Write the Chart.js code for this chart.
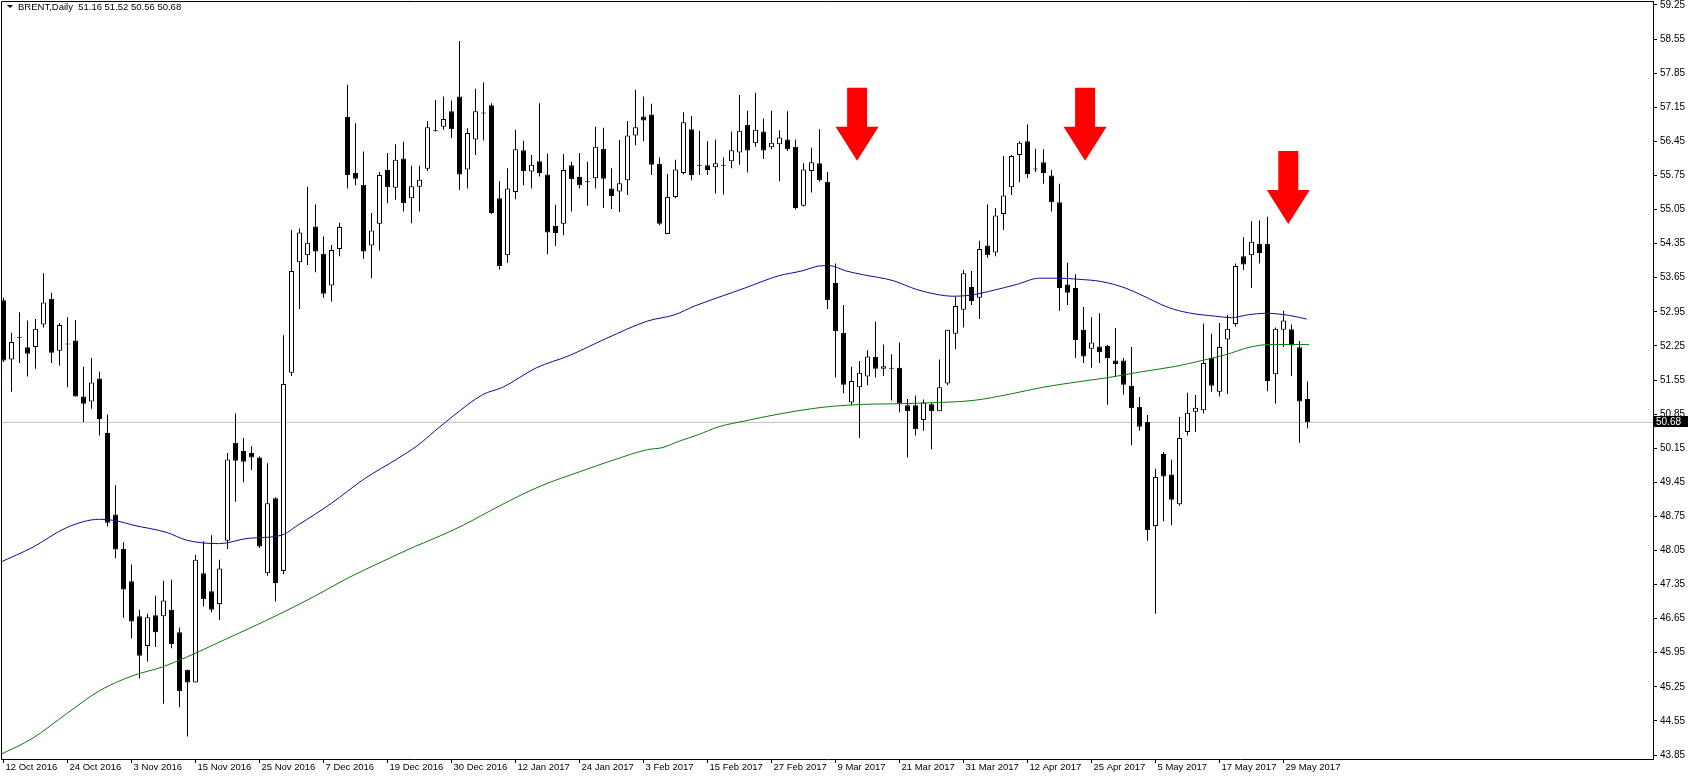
<!DOCTYPE html>
<html>
<head>
<meta charset="utf-8">
<script src="https://cdn.jsdelivr.net/npm/chart.js@4.4.1/dist/chart.umd.min.js"></script>
<style>
  html, body { margin: 0; padding: 0; background: #fff; }
  canvas { display: block; }
</style>
</head>
<body>
<canvas id="canvas" width="1693" height="779"></canvas>
<script>
// Date labels under the X axis, one every 8 daily bars
const dateLabels = ['12 Oct 2016', '24 Oct 2016', '3 Nov 2016', '15 Nov 2016', '25 Nov 2016', '7 Dec 2016',
    '19 Dec 2016', '30 Dec 2016', '12 Jan 2017', '24 Jan 2017', '3 Feb 2017', '15 Feb 2017', '27 Feb 2017',
    '9 Mar 2017', '21 Mar 2017', '31 Mar 2017', '12 Apr 2017', '25 Apr 2017', '5 May 2017', '17 May 2017', '29 May 2017'];
const labelStep = 8;

// Price labels on the right axis
const priceTicks = [59.25, 58.55, 57.85, 57.15, 56.45, 55.75, 55.05, 54.35, 53.65, 52.95, 52.25, 51.55,
    50.85, 50.15, 49.45, 48.75, 48.05, 47.35, 46.65, 45.95, 45.25, 44.55, 43.85];

// Daily BRENT candles (bar 0 = 12 Oct 2016)
const opens = [
    53.19, 51.97, 52.42, 52.22, 52.23, 52.69, 53.22, 52.15, 52.28, 52.36,
    51.21, 51.11, 51.58, 50.46, 48.79, 48.08, 47.42, 46.70, 46.09, 46.72,
    46.70, 46.83, 46.37, 45.60, 45.34, 47.58, 47.21, 46.95, 48.25, 50.26,
    50.09, 50.05, 49.96, 47.58, 49.12, 47.63, 51.70, 53.97, 54.11, 54.70,
    54.14, 53.49, 54.24, 56.95, 55.80, 55.56, 54.31, 54.76, 55.86, 55.50,
    56.10, 55.28, 55.52, 55.89, 56.68, 56.75, 57.07, 57.37, 55.87, 56.49,
    57.02, 57.19, 55.28, 54.11, 55.41, 56.27, 55.83, 56.04, 55.77, 54.71,
    54.76, 55.96, 55.72, 55.61, 55.69, 56.30, 55.48, 55.42, 55.65, 56.57,
    56.96, 57.00, 55.99, 54.55, 55.31, 55.80, 56.70, 55.95, 55.96, 55.92,
    55.95, 56.04, 56.22, 56.79, 56.41, 56.65, 56.33, 56.39, 56.49, 56.34,
    55.13, 55.84, 56.00, 55.62, 53.54, 52.52, 51.09, 51.40, 51.62, 52.02,
    51.78, 51.79, 51.80, 51.03, 51.03, 50.73, 51.05, 50.91, 51.48, 52.50,
    52.99, 53.46, 53.24, 54.31, 54.17, 54.96, 55.51, 56.17, 56.45, 55.88,
    56.02, 55.75, 55.20, 53.51, 53.44, 52.58, 52.19, 52.24, 52.25, 51.95,
    51.95, 51.43, 51.00, 50.69, 48.55, 50.03, 49.61, 49.00, 50.48, 50.90,
    50.93, 52.00, 51.31, 52.38, 52.70, 54.09, 54.11, 54.35, 54.35, 51.67,
    52.58, 52.59, 52.22, 51.16
];
const highs = [
    53.24, 52.52, 52.94, 52.77, 52.80, 53.74, 53.34, 52.72, 52.84, 52.78,
    51.82, 52.00, 51.72, 50.84, 49.39, 48.22, 47.76, 46.83, 46.75, 47.12,
    47.43, 47.45, 46.47, 45.60, 47.96, 48.24, 48.36, 47.86, 50.05, 50.86,
    50.36, 50.19, 49.98, 49.84, 49.14, 52.47, 54.63, 54.66, 55.52, 55.16,
    54.50, 54.32, 54.78, 57.61, 56.82, 56.24, 54.98, 55.82, 56.21, 56.39,
    56.44, 55.95, 55.95, 56.87, 57.30, 57.37, 57.29, 58.51, 56.72, 57.53,
    57.66, 57.23, 55.63, 55.90, 56.69, 56.46, 56.17, 57.23, 56.20, 55.15,
    56.19, 56.03, 56.21, 56.03, 56.75, 56.73, 55.90, 56.48, 56.87, 57.51,
    57.37, 57.22, 56.12, 55.78, 56.07, 57.05, 56.97, 56.67, 56.45, 56.49,
    56.12, 56.65, 57.40, 57.08, 57.45, 56.92, 57.08, 56.68, 57.07, 56.49,
    56.00, 56.32, 56.70, 55.82, 53.94, 53.09, 51.82, 51.94, 52.16, 52.75,
    52.28, 52.08, 52.32, 51.16, 51.23, 51.15, 51.08, 51.97, 52.58, 53.26,
    53.81, 53.79, 54.41, 55.16, 55.08, 56.15, 56.17, 56.45, 56.80, 56.30,
    56.29, 55.86, 55.58, 53.96, 53.72, 53.05, 52.84, 52.92, 52.27, 52.62,
    52.00, 52.23, 51.20, 50.83, 49.73, 50.07, 49.91, 50.79, 51.29, 51.24,
    52.71, 52.50, 52.72, 52.89, 53.94, 54.48, 54.81, 54.83, 54.90, 52.63,
    52.97, 52.69, 52.35, 51.52
];
const lows = [
    51.92, 51.31, 51.90, 51.62, 51.78, 52.63, 51.90, 51.85, 51.40, 51.21,
    50.69, 50.96, 50.41, 48.54, 47.89, 46.67, 46.24, 45.42, 45.77, 46.07,
    44.90, 46.04, 44.83, 44.23, 45.34, 46.90, 46.78, 46.62, 48.08, 49.05,
    49.45, 49.70, 48.10, 47.53, 47.00, 47.56, 51.63, 53.01, 53.91, 53.76,
    53.24, 53.16, 54.09, 55.48, 55.55, 54.04, 53.64, 54.21, 55.18, 55.25,
    55.01, 54.77, 55.01, 55.84, 56.65, 56.69, 56.52, 55.45, 55.48, 56.17,
    56.47, 54.96, 53.82, 53.96, 55.26, 55.55, 55.48, 55.73, 54.13, 54.30,
    54.52, 55.01, 55.48, 55.13, 55.48, 55.08, 55.06, 55.00, 55.35, 56.37,
    56.45, 55.76, 54.73, 54.55, 55.28, 55.77, 55.65, 55.76, 55.76, 55.38,
    55.36, 55.90, 55.97, 55.81, 56.34, 56.09, 56.29, 55.63, 56.25, 55.05,
    55.11, 55.40, 55.62, 53.01, 51.60, 51.28, 51.03, 50.36, 51.44, 51.60,
    51.63, 51.13, 50.89, 49.96, 50.41, 50.51, 50.13, 50.91, 51.44, 52.18,
    52.63, 53.09, 52.80, 54.06, 54.09, 54.63, 55.35, 55.61, 55.70, 55.82,
    55.58, 55.01, 52.97, 53.09, 52.00, 51.90, 51.80, 51.90, 51.04, 51.62,
    51.25, 50.21, 50.51, 48.25, 46.75, 48.65, 48.57, 48.97, 50.41, 50.48,
    50.86, 51.31, 51.21, 51.26, 52.65, 53.81, 53.44, 53.94, 51.32, 51.06,
    52.23, 51.63, 50.26, 50.56
];
const closes = [
    51.95, 52.33, 52.44, 52.09, 52.60, 53.14, 52.11, 52.68, 52.30, 51.21,
    51.06, 51.50, 50.75, 48.62, 48.07, 47.25, 46.59, 45.89, 46.68, 46.37,
    47.02, 46.13, 45.16, 45.34, 47.86, 47.05, 46.83, 47.68, 49.92, 49.89,
    49.87, 49.96, 48.13, 49.02, 47.38, 51.47, 53.79, 54.58, 54.37, 54.19,
    53.32, 54.22, 54.69, 55.76, 55.68, 54.19, 54.62, 55.76, 55.51, 56.07,
    55.18, 55.53, 55.66, 56.74, 56.66, 56.91, 56.70, 55.77, 56.62, 57.07,
    57.03, 54.98, 53.89, 55.48, 56.29, 55.84, 55.97, 55.80, 54.58, 54.57,
    55.86, 55.67, 55.55, 55.62, 56.34, 55.68, 55.33, 55.59, 56.57, 56.74,
    56.88, 55.97, 54.76, 55.31, 55.87, 56.84, 55.76, 55.96, 55.86, 56.00,
    55.96, 56.27, 56.67, 56.26, 56.69, 56.26, 56.42, 56.53, 56.29, 55.08,
    55.87, 56.02, 55.65, 53.19, 52.55, 51.45, 51.53, 51.70, 52.03, 51.78,
    51.83, 51.78, 51.06, 50.91, 50.54, 51.09, 50.91, 51.40, 52.58, 53.07,
    53.74, 53.17, 54.24, 54.11, 54.93, 55.34, 56.15, 56.42, 55.78, 55.87,
    55.80, 55.20, 53.44, 53.34, 52.37, 52.03, 52.32, 52.12, 52.00, 51.88,
    51.45, 50.97, 50.59, 48.47, 49.56, 49.57, 49.09, 50.36, 50.88, 50.98,
    51.90, 51.43, 52.23, 52.60, 53.89, 53.92, 54.39, 54.16, 51.53, 52.60,
    52.77, 52.26, 51.11, 50.68
];

// Blue moving average (bar position, value)
const blueAt = [-0.5, 3.7, 7.9, 12.0, 14.1, 16.2, 20.4, 22.9, 27.0, 30.6, 34.7, 36.8, 41.0, 45.1, 49.3, 51.8,
    53.9, 56.2, 59.9, 62.4, 66.6, 70.7, 75.3, 80.5, 83.9, 86.4, 91.0, 92.7, 96.9, 99.8, 101.9, 103.2, 105.3,
    107.5, 111.2, 114.1, 116.6, 118.7, 120.8, 123.7, 126.6, 129.5, 132.0, 134.2, 137.3, 140.2, 142.3, 145.6,
    148.1, 151.5, 153.5, 155.6, 157.7, 160.6, 162.9];
const blueVal = [47.80, 48.12, 48.52, 48.69, 48.66, 48.57, 48.42, 48.26, 48.19, 48.30, 48.36, 48.57, 49.02, 49.52,
    49.94, 50.21, 50.50, 50.81, 51.25, 51.40, 51.80, 52.05, 52.40, 52.76, 52.89, 53.07, 53.34, 53.44, 53.69, 53.79,
    53.89, 53.90, 53.79, 53.71, 53.59, 53.41, 53.31, 53.27, 53.29, 53.39, 53.51, 53.64, 53.64, 53.62, 53.57, 53.44,
    53.29, 53.04, 52.93, 52.86, 52.83, 52.89, 52.92, 52.88, 52.80];

// Green moving average (bar position, value)
const greenAt = [-0.5, 3.7, 7.9, 12.0, 16.2, 19.9, 22.9, 27.0, 30.6, 34.7, 38.9, 43.0, 47.2, 51.4, 53.6, 57.5,
    61.7, 67.1, 72.1, 76.3, 80.5, 82.3, 84.4, 86.9, 89.4, 92.7, 96.9, 101.0, 103.6, 107.5, 111.2, 115.4, 121.2,
    125.8, 129.9, 134.2, 138.1, 142.3, 146.5, 149.8, 152.8, 155.7, 158.3, 160.9, 163.2];
const greenVal = [43.85, 44.20, 44.70, 45.17, 45.48, 45.66, 45.86, 46.17, 46.44, 46.76, 47.11, 47.48, 47.81, 48.13,
    48.28, 48.57, 48.94, 49.37, 49.67, 49.91, 50.12, 50.16, 50.29, 50.43, 50.59, 50.71, 50.85, 50.96, 51.01, 51.05,
    51.06, 51.08, 51.13, 51.26, 51.40, 51.51, 51.60, 51.72, 51.83, 51.95, 52.07, 52.22, 52.28, 52.28, 52.28];

// Red "sell" arrows: bar position and price of the arrow's top
const arrowAt = [106.7, 135.2, 160.6];
const arrowTop = [57.55, 57.55, 56.25];

const last = closes.length - 1;
const xMin = -0.3125, xMax = 206.1875;

/**
 * Builds {x, y} points from two parallel arrays.
 */
function points(xs, ys) {
    return xs.map((x, i) => ({ x: x, y: ys[i] }));
}

const bodies = opens.map((o, i) => ({ x: i, y: [o, closes[i]] }));
const wicks = lows.map((l, i) => ({ x: i, y: [l, highs[i]] }));
const bodyColors = opens.map((o, i) => closes[i] >= o ? '#ffffff' : '#000000');

/**
 * Extra drawing: white background, frame, arrows, header and bid label.
 */
const extras = {
    id: 'extras',
    beforeDraw(chart) {
        const ctx = chart.ctx;
        ctx.save();
        ctx.fillStyle = '#ffffff';
        ctx.fillRect(0, 0, chart.width, chart.height);
        ctx.restore();
    },
    afterDatasetsDraw(chart) {
        const ctx = chart.ctx;
        const area = chart.chartArea;
        const xs = chart.scales.x, ys = chart.scales.y;
        ctx.save();
        ctx.strokeStyle = '#000000';
        ctx.lineWidth = 1;
        ctx.beginPath();
        ctx.moveTo(area.left + 0.5, area.bottom);
        ctx.lineTo(area.left + 0.5, area.top + 0.5);
        ctx.lineTo(area.right, area.top + 0.5);
        ctx.stroke();

        // arrows
        ctx.fillStyle = '#ff0000';
        arrowAt.forEach((a, i) => {
            const cx = xs.getPixelForValue(a);
            const top = ys.getPixelForValue(arrowTop[i]);
            ctx.beginPath();
            ctx.moveTo(cx - 10, top);
            ctx.lineTo(cx + 10, top);
            ctx.lineTo(cx + 10, top + 39);
            ctx.lineTo(cx + 21.5, top + 39);
            ctx.lineTo(cx, top + 73);
            ctx.lineTo(cx - 21.5, top + 39);
            ctx.lineTo(cx - 10, top + 39);
            ctx.closePath();
            ctx.fill();
        });
        ctx.restore();
    },
    afterDraw(chart) {
        const ctx = chart.ctx;
        const area = chart.chartArea;
        ctx.save();
        // header
        ctx.fillStyle = '#000000';
        ctx.beginPath();
        ctx.moveTo(7, 5);
        ctx.lineTo(13, 5);
        ctx.lineTo(10, 8);
        ctx.closePath();
        ctx.fill();
        ctx.font = '9.5px "Liberation Sans"';
        ctx.textBaseline = 'middle';
        ctx.fillText('BRENT,Daily  ' + [opens[last], highs[last], lows[last], closes[last]].map(v => v.toFixed(2)).join(' '), 18, 7.5);

        // bid price label on the axis
        ctx.font = '10px "Liberation Sans"';
        const y = Math.round(chart.scales.y.getPixelForValue(closes[last]));
        ctx.fillRect(area.right + 1, y - 6, 34, 11);
        ctx.fillStyle = '#ffffff';
        ctx.fillText(closes[last].toFixed(2), area.right + 3, y);
        ctx.restore();
    }
};

Chart.defaults.font.family = '"Liberation Sans", sans-serif';
Chart.defaults.font.size = 10;
Chart.defaults.color = '#000000';

const config = {
    type: 'bar',
    data: {
        datasets: [
            {
                type: 'line',
                data: points(blueAt, blueVal),
                borderColor: '#0c0c96',
                borderWidth: 1,
                pointRadius: 0,
                cubicInterpolationMode: 'monotone',
                order: -2
            },
            {
                type: 'line',
                data: points(greenAt, greenVal),
                borderColor: '#0f7a0f',
                borderWidth: 1,
                pointRadius: 0,
                cubicInterpolationMode: 'monotone',
                order: -1
            },
            {
                data: bodies,
                backgroundColor: bodyColors,
                borderColor: '#000000',
                borderWidth: 1,
                borderSkipped: false,
                barThickness: 5,
                minBarLength: 1,
                grouped: false,
                inflateAmount: 0,
                order: 0
            },
            {
                data: wicks,
                backgroundColor: '#000000',
                borderWidth: 0,
                barThickness: 1,
                grouped: false,
                inflateAmount: 0,
                order: 1
            },
            {
                type: 'line',
                data: [{ x: xMin, y: closes[last] }, { x: xMax, y: closes[last] }],
                borderColor: '#c0c0c0',
                borderWidth: 1,
                pointRadius: 0,
                order: 2
            }
        ]
    },
    options: {
        responsive: false,
        animation: false,
        devicePixelRatio: 1,
        events: [],
        layout: { padding: { top: 1, left: 1, right: 0, bottom: 0 } },
        plugins: {
            legend: { display: false },
            tooltip: { enabled: false }
        },
        scales: {
            x: {
                type: 'linear',
                min: xMin,
                max: xMax,
                offset: false,
                grid: { offset: false, drawOnChartArea: false, drawTicks: true, tickLength: 4, color: '#000000' },
                border: { display: true, color: '#000000' },
                ticks: {
                    autoSkip: false,
                    maxRotation: 0,
                    align: 'start',
                    labelOffset: 2,
                    padding: -1,
                    font: { size: 9.5 },
                    callback: (v, i) => dateLabels[i]
                },
                afterBuildTicks: axis => {
                    axis.ticks = dateLabels.map((d, i) => ({ value: i * labelStep }));
                },
                afterFit: axis => {
                    axis.height = 20;
                    axis.paddingLeft = 0;
                    axis.paddingRight = 0;
                }
            },
            y: {
                position: 'right',
                min: 43.768,
                max: 59.332,
                grid: { drawOnChartArea: false, drawTicks: true, tickLength: 4, color: '#000000' },
                border: { display: true, color: '#000000' },
                ticks: {
                    autoSkip: false,
                    padding: 3,
                    callback: v => v.toFixed(2)
                },
                afterBuildTicks: axis => {
                    axis.ticks = priceTicks.map(v => ({ value: v }));
                },
                afterFit: axis => {
                    axis.width = 40;
                    axis.paddingTop = 0;
                    axis.paddingBottom = 0;
                }
            }
        }
    },
    plugins: [extras]
};

new Chart('canvas', config);
</script>
</body>
</html>
